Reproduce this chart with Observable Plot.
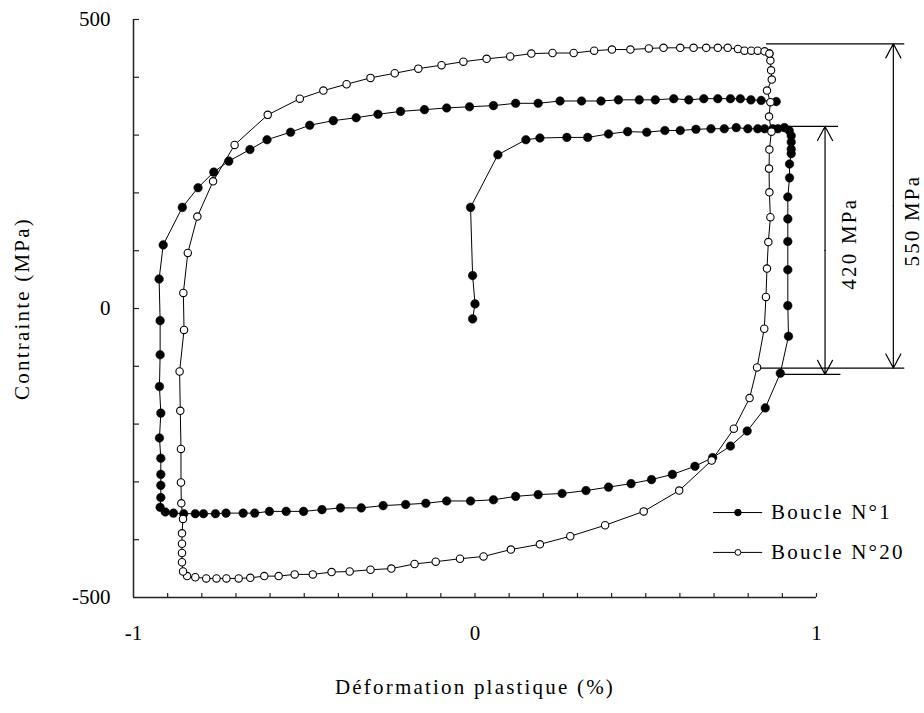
<!DOCTYPE html>
<html><head><meta charset="utf-8">
<script src="https://cdn.jsdelivr.net/npm/d3@7"></script>
<script src="https://cdn.jsdelivr.net/npm/@observablehq/plot@0.6"></script>
<style>body{margin:0;background:#fff} svg{display:block}</style>
</head><body><div id="chart"></div>
<script>
// ---- Data ----
const seriesNames = ["Boucle N°1", "Boucle N°20"];

const boucle1Strain = [-0.007,0.000,-0.007,-0.013,0.067,0.149,0.190,0.269,0.330,0.391,0.447,0.503,0.556,0.601,0.647,0.691,0.730,0.765,0.799,0.828,0.848,0.872,0.887,0.906,0.920,0.926,0.926,0.926,0.926,0.921,0.921,0.916,0.916,0.916,0.916,0.916,0.918,0.894,0.850,0.797,0.748,0.696,0.644,0.578,0.517,0.457,0.391,0.325,0.255,0.185,0.119,0.054,-0.013,-0.083,-0.144,-0.203,-0.269,-0.333,-0.394,-0.448,-0.502,-0.553,-0.602,-0.645,-0.679,-0.729,-0.760,-0.795,-0.819,-0.853,-0.883,-0.907,-0.922,-0.920,-0.920,-0.920,-0.920,-0.924,-0.920,-0.924,-0.922,-0.922,-0.925,-0.913,-0.857,-0.811,-0.765,-0.721,-0.659,-0.609,-0.540,-0.484,-0.415,-0.348,-0.284,-0.218,-0.148,-0.083,-0.016,0.054,0.119,0.185,0.249,0.312,0.369,0.420,0.481,0.528,0.582,0.626,0.670,0.711,0.748,0.777,0.808,0.838,0.882];
const boucle1Stress = [-18,8,57,175,266,292,295,296,296,302,306,305,308,308,310,311,311,313,311,311,311,311,311,313,308,299,288,276,268,250,226,193,155,116,67,5,-48,-112,-172,-212,-238,-258,-273,-287,-296,-303,-309,-315,-320,-322,-325,-331,-333,-333,-337,-339,-341,-345,-345,-348,-351,-351,-351,-354,-354,-354,-355,-355,-355,-355,-354,-352,-344,-327,-306,-287,-259,-224,-181,-135,-80,-21,51,110,175,209,236,255,275,292,305,317,325,330,336,341,344,347,349,351,355,355,359,359,359,361,361,361,363,361,363,363,363,363,361,360,358];

const boucle20Strain = [0.862,0.865,0.867,0.869,0.855,0.865,0.861,0.868,0.862,0.861,0.862,0.865,0.859,0.855,0.852,0.847,0.826,0.804,0.758,0.693,0.598,0.494,0.381,0.279,0.190,0.105,0.025,-0.044,-0.115,-0.177,-0.245,-0.306,-0.367,-0.420,-0.475,-0.528,-0.575,-0.617,-0.658,-0.692,-0.728,-0.757,-0.787,-0.819,-0.843,-0.855,-0.858,-0.858,-0.858,-0.858,-0.855,-0.860,-0.861,-0.861,-0.863,-0.865,-0.852,-0.854,-0.841,-0.813,-0.767,-0.704,-0.607,-0.513,-0.444,-0.376,-0.306,-0.235,-0.166,-0.098,-0.034,0.034,0.103,0.165,0.227,0.289,0.349,0.401,0.455,0.509,0.552,0.601,0.640,0.677,0.711,0.740,0.770,0.789,0.809,0.828,0.848,0.862];
const boucle20Stress = [441,429,412,396,377,357,332,306,275,242,201,158,115,69,20,-35,-102,-155,-208,-263,-315,-351,-375,-394,-408,-417,-429,-433,-438,-442,-450,-452,-455,-456,-460,-460,-463,-463,-466,-467,-467,-467,-467,-465,-463,-455,-439,-423,-407,-389,-364,-337,-301,-243,-177,-109,-37,27,96,159,220,283,335,363,377,388,399,407,415,421,427,432,436,441,442,442,446,448,448,450,451,451,451,451,451,451,449,446,446,446,445,441];

const xTicks = [-0.9,-0.8,-0.7,-0.6,-0.5,-0.4,-0.3,-0.2,-0.1,0,0.1,0.2,0.3,0.4,0.5,0.6,0.7,0.8,0.9,1];
const xTickLabels = [-1, 0, 1];
const yTicks = [-400,-300,-200,-100,0,100,200,300,400,500];
const yTickLabels = [-500, 0, 500];

// annotation values (MPa amplitudes)
const dimLabels = ["550 MPa", "420 MPa"];
const dimStrain = [1.225, 1.025];
const dimTop = [458, 315];
const dimBottom = [-103, -114];
const dimLabelStrain = [1.279, 1.096];
const dimLabelStress = [152, 112];
const extLines = [
  {y: 458, x1: 0.852, x2: 1.257},
  {y: -103, x1: 0.837, x2: 1.257},
  {y: 315, x1: 0.867, x2: 1.063},
  {y: -114, x1: 0.894, x2: 1.070}
];

// ---- Build tables ----
const b1 = boucle1Strain.map((x, i) => ({x, y: boucle1Stress[i]}));
const b20 = boucle20Strain.map((x, i) => ({x, y: boucle20Stress[i]}));
const dims = dimLabels.map((label, i) => ({
  label, x: dimStrain[i], top: dimTop[i], bottom: dimBottom[i],
  mid: (dimTop[i] + dimBottom[i]) / 2, lx: dimLabelStrain[i], ly: dimLabelStress[i]
}));
const legend = [
  {name: seriesNames[0], x1: 0.697, x2: 0.841, xm: 0.770, xt: 0.867, y: -353, fill: "black", r: 4},
  {name: seriesNames[1], x1: 0.697, x2: 0.841, xm: 0.770, xt: 0.867, y: -422, fill: "white", r: 3.2}
];

const W = 924, H = 713, ML = 133, MR = 108, MT = 19, MB = 116;
const pxToX = 2 / (W - ML - MR); // strain units per pixel
const FONT = "Liberation Serif, Times New Roman, serif";
const FS = 21;

const chart = Plot.plot({
  width: W, height: H,
  marginLeft: ML, marginRight: MR, marginTop: MT, marginBottom: MB,
  x: {domain: [-1, 1], axis: null},
  y: {domain: [-500, 500], axis: null},
  style: {fontFamily: FONT, background: "white", color: "black"},
  marks: [
    // axes lines
    Plot.ruleX([-1], {y1: -500, y2: 500, stroke: "#222", strokeWidth: 1.5}),
    Plot.ruleY([-500], {x1: -1, x2: 1, stroke: "#222", strokeWidth: 1.5}),
    // inward ticks
    Plot.ruleX(xTicks, {x: d => d, y1: -500, y2: -500 + 7, stroke: "#222", strokeWidth: 1.2}),
    Plot.ruleY(yTicks, {y: d => d, x1: -1, x2: -1 + 6 * pxToX, stroke: "#222", strokeWidth: 1.2}),
    // tick labels
    Plot.text(xTickLabels, {x: d => d, frameAnchor: "bottom", dy: 42, text: d => String(d), fontSize: FS, fill: "black"}),
    Plot.text(yTickLabels, {y: d => d, frameAnchor: "left", dx: -23, textAnchor: "end", text: d => String(d), fontSize: FS, fill: "black"}),
    // axis titles
    Plot.text(["Déformation plastique (%)"], {frameAnchor: "bottom", dy: 96, text: d => d, fontSize: FS, fill: "black"}),
    Plot.text(["Contrainte (MPa)"], {x: -1 - 111 * pxToX, y: 0, rotate: -90, text: d => d, fontSize: FS, fill: "black"}),
    // series
    Plot.line(b1, {x: "x", y: "y", stroke: "black", strokeWidth: 1}),
    Plot.dot(b1, {x: "x", y: "y", r: 4.3, fill: "black", stroke: "black", strokeWidth: 0.5}),
    Plot.line(b20, {x: "x", y: "y", stroke: "black", strokeWidth: 1}),
    Plot.dot(b20, {x: "x", y: "y", r: 3.7, fill: "white", stroke: "black", strokeWidth: 1.1}),
    // dimension annotations
    Plot.link(extLines, {x1: "x1", x2: "x2", y1: "y", y2: "y", stroke: "black", strokeWidth: 1.2}),
    Plot.arrow(dims, {x1: "x", x2: "x", y1: "mid", y2: "top", stroke: "black", strokeWidth: 1.2, headLength: 20, headAngle: 56}),
    Plot.arrow(dims, {x1: "x", x2: "x", y1: "mid", y2: "bottom", stroke: "black", strokeWidth: 1.2, headLength: 20, headAngle: 56}),
    Plot.text(dims, {x: "lx", y: "ly", text: "label", rotate: -90, fontSize: FS, fill: "black"}),
    // legend
    Plot.link(legend, {x1: "x1", x2: "x2", y1: "y", y2: "y", stroke: "black", strokeWidth: 1}),
    Plot.dot(legend, {x: "xm", y: "y", r: "r", fill: "fill", stroke: "black", strokeWidth: 1}),
    Plot.text(legend, {x: "xt", y: "y", text: "name", textAnchor: "start", fontSize: FS, fill: "black"})
  ]
});
d3.select(chart).selectAll("text").filter(function() { return /[A-Za-z]/.test(this.textContent); })
  .style("letter-spacing", "2.2px");
document.getElementById("chart").appendChild(chart);
</script>
</body></html>
